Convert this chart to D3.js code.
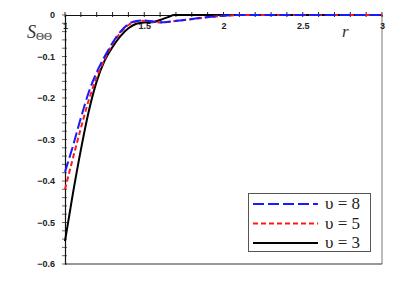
<!DOCTYPE html>
<html>
<head>
<meta charset="utf-8">
<script src="https://cdn.jsdelivr.net/npm/d3@7"></script>
<style>
  body { margin: 0; background: #fff; }
  .tick text { font-family: "Liberation Sans", Arial, sans-serif; font-weight: bold; font-size: 9px; fill: #222; }
</style>
</head>
<body>
<script>
var width = 417,
  height = 285;

// r values for each curve
var rBlue = [1, 1.05, 1.1, 1.15, 1.2, 1.25, 1.3, 1.35, 1.4, 1.45, 1.5, 1.55, 1.6, 1.7, 1.8, 1.9, 2.0, 2.1, 2.5, 3];
var sBlue = [-0.378, -0.316, -0.248, -0.186, -0.138, -0.1, -0.067, -0.04, -0.022, -0.0145, -0.013, -0.015, -0.0175, -0.014, -0.0095, -0.005, -0.002, 0, 0, 0];

var rRed = [1, 1.05, 1.1, 1.15, 1.2, 1.25, 1.3, 1.35, 1.4, 1.45, 1.5, 1.55, 1.6, 1.7, 1.8, 1.9, 2.0, 2.1, 2.5, 3];
var sRed = [-0.42, -0.345, -0.273, -0.205, -0.15, -0.107, -0.07, -0.043, -0.024, -0.016, -0.014, -0.016, -0.018, -0.0145, -0.01, -0.0055, -0.002, 0, 0, 0];

var rBlack = [1, 1.05, 1.1, 1.15, 1.2, 1.25, 1.3, 1.35, 1.4, 1.45, 1.5, 1.55, 1.6, 1.65, 1.69, 2, 2.5, 3];
var sBlack = [-0.545, -0.43, -0.325, -0.232, -0.16, -0.11, -0.077, -0.051, -0.032, -0.021, -0.018, -0.0175, -0.012, -0.005, 0, 0, 0, 0];

var xTicks = [1, 1.5, 2, 2.5, 3];
var yTicks = [0, -0.1, -0.2, -0.3, -0.4, -0.5, -0.6];
var legendLabels = ["\u03c5 = 8", "\u03c5 = 5", "\u03c5 = 3"];

var x = d3.scaleLinear().domain([1, 3]).range([65, 382]);
var y = d3.scaleLinear().domain([-0.6, 0]).range([264, 15]);

var svg = d3
  .select("body")
  .append("svg")
  .attr("width", width)
  .attr("height", height);

// frame on the right and bottom
svg.append("line")
  .attr("x1", x(3)).attr("x2", x(3)).attr("y1", y(0)).attr("y2", y(-0.6))
  .attr("stroke", "#777").attr("stroke-width", 1);
svg.append("line")
  .attr("x1", x(1)).attr("x2", x(3)).attr("y1", y(-0.6)).attr("y2", y(-0.6))
  .attr("stroke", "#333").attr("stroke-width", 1.2);

// minor ticks
var xMinor = d3.range(1, 3.001, 0.1);
var yMinor = d3.range(-0.6, 0.001, 0.02);

svg.append("g")
  .selectAll("line")
  .data(xMinor)
  .join("line")
  .attr("x1", d => x(d)).attr("x2", d => x(d))
  .attr("y1", y(0) - 3).attr("y2", y(0) + 2)
  .attr("stroke", "#222");

svg.append("g")
  .selectAll("line")
  .data(yMinor)
  .join("line")
  .attr("x1", x(1) - 3).attr("x2", x(1) + 2)
  .attr("y1", d => y(d)).attr("y2", d => y(d))
  .attr("stroke", "#444").attr("stroke-width", 0.8);

// x axis sits on top (y = 0), labels hang below it
var gx = svg.append("g")
  .attr("transform", "translate(0," + y(0) + ")")
  .call(d3.axisBottom(x).tickValues(xTicks).tickSize(0).tickPadding(8).tickFormat(d3.format("")));
gx.select(".domain").attr("stroke", "#111").attr("stroke-width", 1.2);

var gy = svg.append("g")
  .attr("transform", "translate(" + x(1) + ",0)")
  .call(d3.axisLeft(y).tickValues(yTicks).tickSize(0).tickPadding(10).tickFormat(d3.format("")));
gy.select(".domain").attr("stroke", "#111").attr("stroke-width", 1.2);

// axis titles
var sLab = svg.append("text")
  .attr("x", 27).attr("y", 38)
  .attr("font-family", "Liberation Serif, serif")
  .attr("fill", "#333");
sLab.append("tspan").attr("font-style", "italic").attr("font-size", 18).text("S");
sLab.append("tspan").attr("font-size", 11).attr("dy", 2).text("\u0398\u0398");

svg.append("text")
  .attr("x", 342).attr("y", 37)
  .attr("font-family", "Liberation Serif, serif")
  .attr("font-style", "italic")
  .attr("font-size", 17)
  .attr("fill", "#333")
  .text("r");

var line = d3.line()
  .x(d => x(d[0]))
  .y(d => y(d[1]))
  .curve(d3.curveMonotoneX);

var series = [
  { r: rBlack, s: sBlack, color: "#000", dash: null },
  { r: rRed, s: sRed, color: "#ff1a1a", dash: "5,3" },
  { r: rBlue, s: sBlue, color: "#1a1aff", dash: "11,4" }
];

series.forEach(function(d) {
  svg.append("path")
    .datum(d.r.map((v, i) => [v, d.s[i]]))
    .attr("fill", "none")
    .attr("stroke", d.color)
    .attr("stroke-width", 2)
    .attr("stroke-dasharray", d.dash)
    .attr("d", line);
});

// legend
var legend = svg.append("g");
legend.append("rect")
  .attr("x", 248.5).attr("y", 193.5).attr("width", 122).attr("height", 58)
  .attr("fill", "#fff").attr("stroke", "#555").attr("stroke-width", 1);

var legendStyle = [
  { color: "#1a1aff", dash: "11,4" },
  { color: "#ff1a1a", dash: "5,3" },
  { color: "#000", dash: null }
];

legendLabels.forEach(function(t, i) {
  var yy = 204 + i * 19.5;
  legend.append("line")
    .attr("x1", 253).attr("x2", 318).attr("y1", yy).attr("y2", yy)
    .attr("stroke", legendStyle[i].color)
    .attr("stroke-width", 2)
    .attr("stroke-dasharray", legendStyle[i].dash);
  legend.append("text")
    .attr("x", 325).attr("y", yy + 5)
    .attr("font-family", "Liberation Serif, serif")
    .attr("font-size", 17)
    .attr("fill", "#222")
    .text(t);
});
</script>
</body>
</html>
